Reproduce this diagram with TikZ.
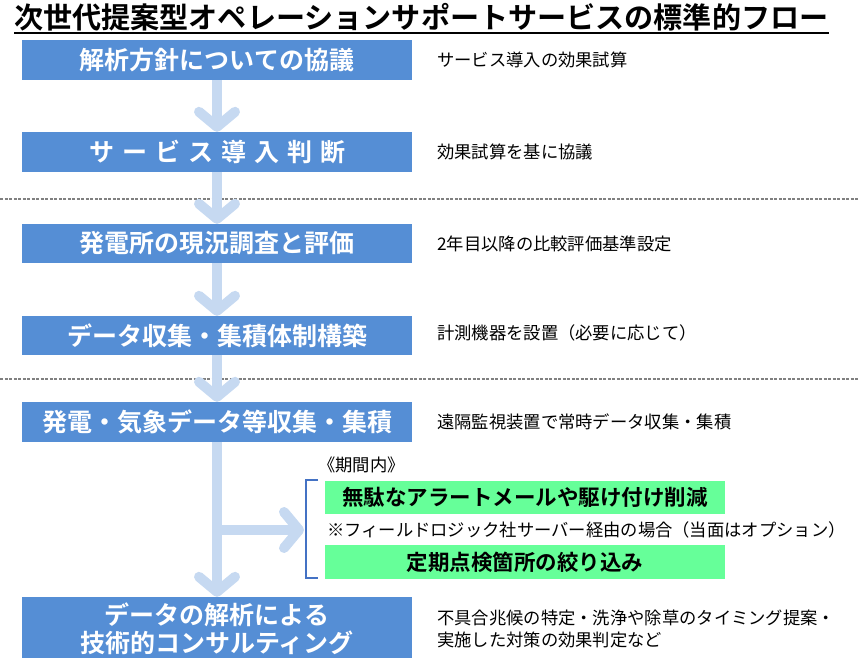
\documentclass[tikz,border=0pt]{standalone}
\usepackage{fontspec}
\setmainfont{Noto Sans CJK JP}[BoldFont={Noto Sans CJK JP Bold}]
\usetikzlibrary{arrows.meta}
\definecolor{boxblue}{RGB}{85,142,213}
\definecolor{arrowc}{RGB}{198,217,241}
\definecolor{mint}{RGB}{102,255,153}
\definecolor{brk}{RGB}{68,114,196}
\definecolor{sepc}{RGB}{128,128,128}
\newcommand\gp{\hspace{8pt}}
\tikzset{
  stepbox/.style={fill=boxblue, text=white, font=\bfseries\fontsize{25}{30}\selectfont,
    minimum width=390pt, minimum height=40pt, inner sep=0pt, align=center},
  note/.style={anchor=west, font=\fontsize{17.3}{21}\selectfont, inner sep=0pt, align=left},
  greenbox/.style={fill=mint, font=\bfseries\fontsize{21.5}{26}\selectfont,
    minimum width=400pt, inner sep=0pt},
  flow/.style={draw=arrowc, line width=10pt, -{Straight Barb[length=15pt,width=36pt,round]}},
  sep/.style={draw=sepc, line width=1.5pt, dash pattern=on 3pt off 1.5pt},
}
\begin{document}
\begin{tikzpicture}[x=1pt,y=-1pt]
\useasboundingbox (0,0) rectangle (859,658);
% title
\node[anchor=west, inner sep=0pt, font=\bfseries\fontsize{29.1}{32}\selectfont] (title) at (14,17)
  {次世代提案型オペレーションサポートサービスの標準的フロー};
\draw[line width=1.8pt] (title.west |- 0,33) coordinate (ul1) -- (title.east |- 0,33) coordinate (ul2);
% boxes
\node[stepbox] (b1) at (217,60) {解析方針についての協議};
\node[stepbox] (b2) at (217,152) {サ\gp ー\gp ビ\gp ス\gp 導\gp 入\gp 判\gp 断};
\node[stepbox, minimum height=39pt] (b3) at (217,243.5) {発電所の現況調査と評価};
\node[stepbox, minimum height=39pt] (b4) at (217,335.5) {データ収集・集積体制構築};
\node[stepbox] (b5) at (217,422) {発電・気象データ等収集・集積};
\node[stepbox, minimum height=63pt, font=\bfseries\fontsize{25}{28}\selectfont] (b6) at (217,628.5)
  {データの解析による\\技術的コンサルティング};
% notes
\node[note] (n1) at (437,60) {サービス導入の効果試算};
\node[note] (n2) at (437,152) {効果試算を基に協議};
\node[note] (n3) at (437,243.5) {2年目以降の比較評価基準設定};
\node[note] (n4) at (437,333) {計測機器を設置（必要に応じて）};
\node[note] (n5) at (437,422) {遠隔監視装置で常時データ収集・集積};
\node[note, font=\fontsize{17.3}{22}\selectfont] (n6) at (437,629)
  {不具合兆候の特定・洗浄や除草のタイミング提案・\\実施した対策の効果判定など};
% separators
\draw[sep] (0,199) coordinate (s1a) -- (859,199) coordinate (s1b);
\draw[sep] (0,379) coordinate (s2a) -- (859,379) coordinate (s2b);
% period block
\node[note] (period) at (318,465) {《期間内》};
\node[greenbox, minimum height=33pt] (g1) at (525,497.5) {無駄なアラートメールや駆け付け削減};
\node[note] (n7) at (327,530) {※フィールドロジック社サーバー経由の場合（当面はオプション）};
\node[greenbox, minimum height=34pt] (g2) at (525,562) {定期点検箇所の絞り込み};
\draw[brk, line width=1.3pt] (318,480) -- (306,480) -- (306,578) -- (318,578);
\coordinate (brin) at (304,530);
% arrows
\draw[flow] (b1.south) -- (b2.north);
\draw[flow] (b2.south) -- (b3.north);
\draw[flow] (b3.south) -- (b4.north);
\draw[flow] (b4.south) -- (b5.north);
\coordinate (fork) at (b5.south |- brin);
\draw[flow] (b5.south) -- (b6.north);
\draw[flow] ([xshift=-5pt]fork) -- (brin);
\end{tikzpicture}
\end{document}
